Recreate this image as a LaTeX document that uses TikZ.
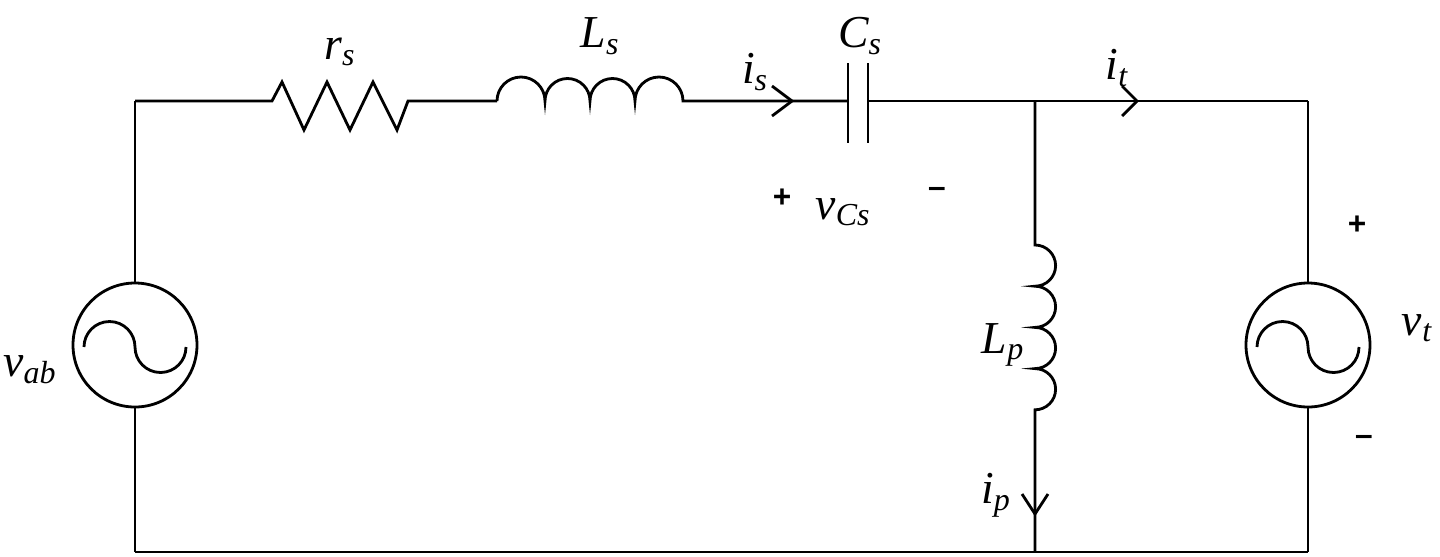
\documentclass[tikz,border=0pt]{standalone}
\usepackage{fontspec}
\setmainfont{Liberation Serif}
\newfontfamily\tms{Liberation Serif}
\newfontfamily\hel{Liberation Sans}
\begin{document}
\begin{tikzpicture}[x=0.02cm,y=-0.02cm,line width=1.6pt,
  lbl/.style={font=\tms\fontsize{26}{30}\selectfont\itshape,inner sep=0pt},
  sgn/.style={font=\hel\fontsize{18}{22}\selectfont\bfseries,inner sep=0pt}]
\useasboundingbox (0,0) rectangle (1440,556);
\coordinate (tl) at (135,101); \coordinate (bl) at (135,552);
\coordinate (tr) at (1308,101); \coordinate (br) at (1308,552);
\coordinate (j) at (1035,101); \coordinate (jb) at (1035,552);
% left source
\node[circle,draw,minimum size=124*0.02cm,inner sep=0pt] (vab) at (135,345) {};
\draw (tl) -- (vab.north); \draw (vab.south) -- (bl);
\draw (84,347) arc[start angle=180,end angle=360,radius=25.5] arc[start angle=180,end angle=0,radius=25.5];
% right source
\node[circle,draw,minimum size=124*0.02cm,inner sep=0pt] (vt) at (1308,345) {};
\draw (tr) -- (vt.north); \draw (vt.south) -- (br);
\draw (1257,347) arc[start angle=180,end angle=360,radius=25.5] arc[start angle=180,end angle=0,radius=25.5];
% top wire
\draw (tl) -- (272,101) -- (282,82) -- (304,130) -- (327,82) -- (350,130) -- (373,82) -- (397,130) -- (408,101) -- (497,101);
\draw (497,101) arc[start angle=180,end angle=360,radius=24]
  arc[start angle=180,end angle=360,radius=22.5]
  arc[start angle=180,end angle=360,radius=22.5]
  arc[start angle=180,end angle=360,radius=24] -- (848,101);
\draw (848,63) -- (848,143); \draw (868,63) -- (868,143);
\draw (868,101) -- (j) -- (tr);
\draw (bl) -- (br);
% middle branch
\draw (j) -- (1035,245)
  arc[start angle=-90,end angle=90,radius=20.6]
  arc[start angle=-90,end angle=90,radius=20.6]
  arc[start angle=-90,end angle=90,radius=20.6]
  arc[start angle=-90,end angle=90,radius=20.6] -- (jb);
% chevrons
\draw (772,86) -- (792,101) -- (772,116);
\draw (1122,86) -- (1137,101) -- (1122,116);
\draw (1022,494) -- (1035,514) -- (1048,494);
% labels
\node[lbl] at (340,52) {r\textsubscript{s}};
\node[lbl] at (600,36) {L\textsubscript{s}};
\node[lbl] at (755,72) {i\textsubscript{s}};
\node[lbl] at (860,36) {C\textsubscript{s}};
\node[lbl] at (1117,68) {i\textsubscript{t}};
\node[lbl] at (843,212) {v\textsubscript{Cs}};
\node[lbl] at (1003,345) {L\textsubscript{p}};
\node[lbl] at (996,495) {i\textsubscript{p}};
\node[lbl] at (1417,328) {v\textsubscript{t}};
\node[lbl] at (30,370) {v\textsubscript{ab}};
\node[sgn] at (782,198) {+};
\node[sgn] at (937,192) {\textendash};
\node[sgn] at (1357,225) {+};
\node[sgn] at (1364,440) {\textendash};
\end{tikzpicture}
\end{document}
